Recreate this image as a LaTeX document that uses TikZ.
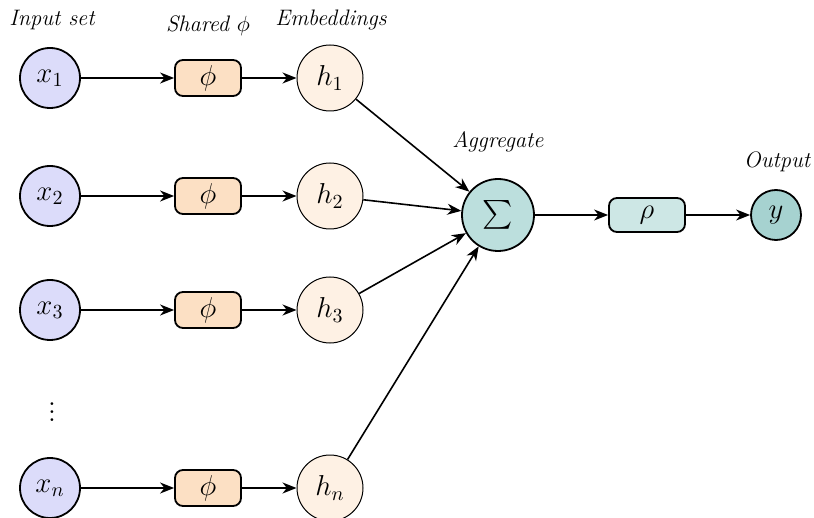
\documentclass[tikz,border=0pt]{standalone}
\usepackage{amsmath}
\usepackage{exscale}
\usetikzlibrary{arrows.meta}
\definecolor{inblue}{HTML}{DCDCFA}
\definecolor{phiorange}{HTML}{FCE0C4}
\definecolor{hcream}{HTML}{FEF1E4}
\definecolor{sigteal}{HTML}{BCDFDD}
\definecolor{rhoteal}{HTML}{CDE7E5}
\definecolor{yteal}{HTML}{A6D2D0}
\begin{document}
\begin{tikzpicture}[x=0.5pt,y=-0.5pt,
  innode/.style={circle,draw,line width=0.9pt,fill=inblue,minimum size=30pt,inner sep=0pt,font=\Large},
  phibox/.style={rectangle,rounded corners=4pt,draw,line width=0.9pt,fill=phiorange,minimum width=33pt,minimum height=18pt,inner sep=0pt,font=\Large},
  hnode/.style={circle,draw,line width=0.5pt,fill=hcream,minimum size=33pt,inner sep=0pt,font=\Large},
  signode/.style={circle,draw,line width=0.9pt,fill=sigteal,minimum size=36pt,inner sep=0pt,font=\Large},
  rhobox/.style={rectangle,rounded corners=4pt,draw,line width=0.9pt,fill=rhoteal,minimum width=38pt,minimum height=17pt,inner sep=0pt,font=\Large},
  ynode/.style={circle,draw,line width=0.9pt,fill=yteal,minimum size=25pt,inner sep=0pt,font=\Large},
  lbl/.style={font=\fontsize{11.2}{13}\selectfont\itshape},
  conn/.style={line width=0.8pt,-{Stealth[length=7pt,width=5.5pt,inset=2.2pt]}}
]
\useasboundingbox (0,0) rectangle (814,518);
% labels
\node[lbl] (lin) at (52,20) {Input set};
\node[lbl] (lsh) at (208,26) {Shared $\phi$};
\node[lbl] (lem) at (331,20) {Embeddings};
\node[lbl] (lag) at (498,142) {Aggregate};
\node[lbl] (lout) at (777,162) {Output};
% rows
\node[innode] (x1) at (50,78) {$x_1$};
\node[innode] (x2) at (50,196) {$x_2$};
\node[innode] (x3) at (50,310) {$x_3$};
\node[innode] (xn) at (50,488) {$x_n$};
\node[font=\Large] (dots) at (52,406) {$\vdots$};
\node[phibox] (p1) at (208,78) {$\phi$};
\node[phibox] (p2) at (208,196) {$\phi$};
\node[phibox] (p3) at (208,310) {$\phi$};
\node[phibox] (pn) at (208,488) {$\phi$};
\node[hnode] (h1) at (330,78) {$h_1$};
\node[hnode] (h2) at (330,196) {$h_2$};
\node[hnode] (h3) at (330,310) {$h_3$};
\node[hnode] (hn) at (330,488) {$h_n$};
\node[signode] (sig) at (498,215) {$\sum$};
\node[rhobox] (rho) at (647,215) {$\rho$};
\node[ynode] (y) at (776,215) {$y$};
% connectors
\foreach \a/\b in {x1/p1,x2/p2,x3/p3,xn/pn,p1/h1,p2/h2,p3/h3,pn/hn,h1/sig,h2/sig,h3/sig,hn/sig,sig/rho,rho/y}
  \draw[conn] (\a) -- (\b);
\end{tikzpicture}
\end{document}
